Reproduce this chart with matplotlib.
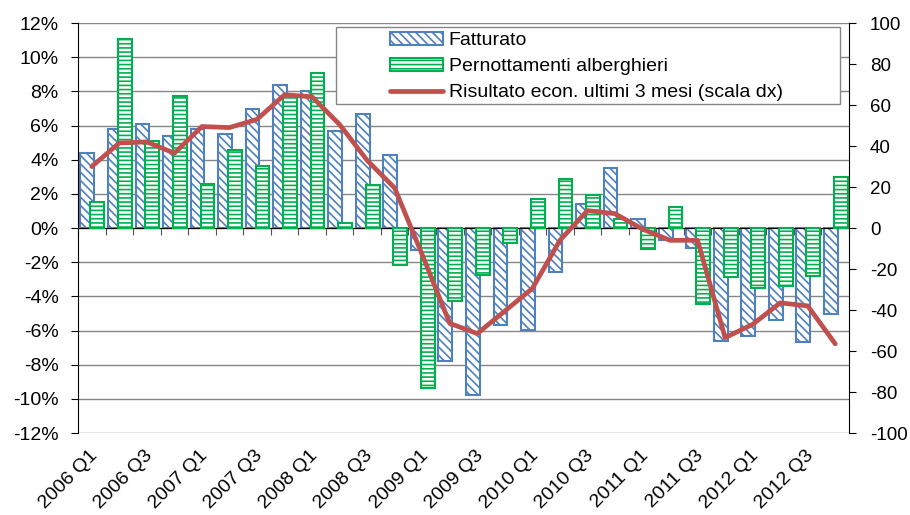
import numpy as np
import matplotlib
matplotlib.use('Agg')
import matplotlib.pyplot as plt
from matplotlib.patches import Rectangle
from matplotlib.ticker import FuncFormatter, MultipleLocator
from matplotlib.transforms import ScaledTranslation

plt.rcParams['font.family'] = ['Liberation Sans', 'DejaVu Sans']
plt.rcParams['axes.unicode_minus'] = False
plt.rcParams['hatch.linewidth'] = 1.2

# dati trimestrali 2006 Q1 - 2012 Q4
trimestri = [f'{a} Q{q}' for a in range(2006, 2013) for q in range(1, 5)]

# variazioni % (scala sx)
fatturato = [4.4, 5.8, 6.1, 5.4, 5.8, 5.5, 6.95, 8.4, 8.0, 5.7, 6.7, 4.25,
             -1.3, -7.8, -9.8, -5.65, -5.95, -2.55, 1.4, 3.5, 0.55, -0.7,
             -1.15, -6.6, -6.3, -5.4, -6.7, -5.05]
pernottamenti = [1.5, 11.05, 5.1, 7.75, 2.6, 4.55, 3.65, 7.7, 9.1, 0.3, 2.5,
                 -2.15, -9.35, -4.25, -2.75, -0.85, 1.7, 2.85, 1.95, 0.5,
                 -1.25, 1.25, -4.45, -2.85, -3.5, -3.4, -2.8, 3.0]

# saldo risultato economico (scala dx)
risultato = [30, 41.5, 42, 36.5, 49.5, 49, 53, 65, 64, 50.5, 33, 19.5,
             -13, -46.5, -51.5, -40.5, -29.5, -6, 8.5, 7, -0.5, -6, -6,
             -53.5, -47, -36.5, -38, -56.5]

BLU = '#4F81BD'
VERDE = '#00B050'
ROSSO = '#C0504D'
GRIGIO = '#868686'

x = np.arange(len(trimestri))

fig = plt.figure(figsize=(9.1, 5.15), dpi=100)
ax = fig.add_axes([0.0857, 0.1592, 0.8473, 0.7961])

b1 = ax.bar(x - 0.16, fatturato, 0.5, color='white', edgecolor=BLU,
            hatch='\\\\\\\\', linewidth=1.5, label='Fatturato', zorder=2)
b2 = ax.bar(x + 0.2, pernottamenti, 0.5, color='white', edgecolor=VERDE,
            hatch='----', linewidth=1.5, label='Pernottamenti alberghieri', zorder=3)

ax.set_xlim(-0.5, len(trimestri) - 0.5)
ax.set_ylim(-12, 12)
ax.yaxis.set_major_locator(MultipleLocator(2))
ax.yaxis.set_major_formatter(FuncFormatter(lambda v, p: f'{int(round(v))}%'))
ax.set_axisbelow(True)
ax.grid(axis='y', color=GRIGIO, linewidth=1)
ax.tick_params(axis='y', labelsize=14, length=5, direction='out', pad=9)

# asse x sullo zero con tacche tra i trimestri
ax.spines['bottom'].set_position(('data', 0))
ax.spines['top'].set_visible(False)
ax.spines['right'].set_visible(False)
ax.set_xticks(np.arange(-0.5, len(trimestri), 1))
ax.tick_params(axis='x', labelbottom=False, length=5, direction='out', color='#555555')

# etichette in basso
sec = ax.secondary_xaxis(0.0)
sec.set_xticks(x[::2], trimestri[::2])
sec.tick_params(axis='x', length=0, pad=10, labelsize=14)
sec.spines['bottom'].set_visible(False)
for lab in sec.get_xticklabels():
    lab.set_rotation(45)
    lab.set_ha('right')
    lab.set_rotation_mode('anchor')
    lab.set_transform(lab.get_transform() + ScaledTranslation(-2 / 72, 0, fig.dpi_scale_trans))

ax2 = ax.twinx()
l1, = ax2.plot(x, risultato, color=ROSSO, linewidth=3.4, solid_capstyle='round',
               solid_joinstyle='round', label='Risultato econ. ultimi 3 mesi (scala dx)')
ax2.set_ylim(-100, 100)
ax2.yaxis.set_major_locator(MultipleLocator(20))
ax2.tick_params(axis='y', labelsize=13.5, length=5, direction='out', pad=10)
for s in ['top', 'bottom', 'left']:
    ax2.spines[s].set_visible(False)

# riquadro legenda
ax2.add_patch(Rectangle((0.3346, 0.802), 0.6534, 0.188, transform=ax2.transAxes,
                        facecolor='white', edgecolor=GRIGIO, linewidth=1, zorder=4))
ax2.legend(handles=[b1, b2, l1], loc='upper left', bbox_to_anchor=(0.405, 0.978),
           frameon=False, fontsize=14, handlelength=2.7, handleheight=0.62,
           handletextpad=0.3, labelspacing=0.46, borderpad=0, borderaxespad=0)

fig.savefig('out.png', dpi=100)
